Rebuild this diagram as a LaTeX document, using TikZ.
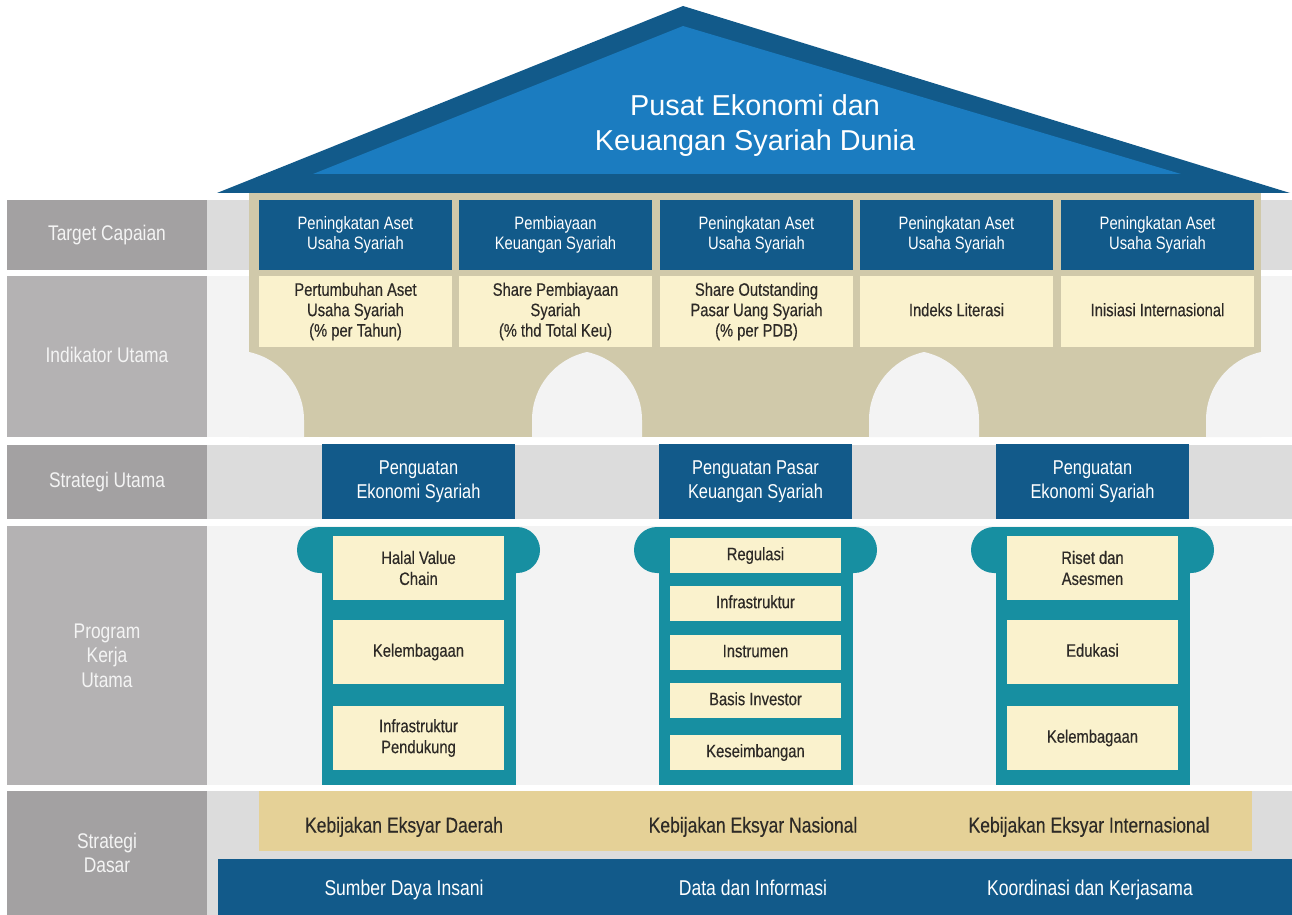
\documentclass[tikz,border=0pt]{standalone}
\usepackage{fontspec}
\setmainfont{Liberation Sans}[FakeStretch=0.82]
\newfontfamily\darkfont{Liberation Sans}[FakeStretch=0.82,FakeBold=0.35]
\newfontfamily\titlefont{Liberation Sans}
\definecolor{dblue}{HTML}{125A8A}
\definecolor{lblue}{HTML}{1B7CC0}
\definecolor{beige}{HTML}{D0C9AA}
\definecolor{cream}{HTML}{FAF2CD}
\definecolor{teal}{HTML}{178FA1}
\definecolor{tan}{HTML}{E5D197}
\definecolor{lbldark}{HTML}{A3A1A2}
\definecolor{lbllight}{HTML}{B4B2B3}
\definecolor{bandD}{HTML}{DCDCDC}
\definecolor{bandL}{HTML}{F3F3F3}
\definecolor{dtext}{HTML}{2D2A26}
\definecolor{lbltext}{HTML}{F4F4F4}
\newcommand\archcut[1]{\fill[bandL] ({#1-55},437) -- ({#1-55},420) .. controls ({#1-55},387) and ({#1-32},359) .. (#1,352) .. controls ({#1+32},359) and ({#1+55},387) .. ({#1+55},420) -- ({#1+55},437) -- cycle;}
\begin{document}
\begin{tikzpicture}[x=0.5pt,y=-0.5pt,
  lbl/.style={text=lbltext, minimum width=100pt, inner sep=0pt, align=center, font=\fontsize{10.6pt}{12.3pt}\selectfont},
  tgt/.style={fill=dblue, text=white, minimum width=96.5pt, minimum height=35pt, inner sep=0pt, align=center, font=\fontsize{9pt}{10pt}\selectfont},
  ind/.style={fill=cream, text=dtext, minimum width=96.5pt, minimum height=35.5pt, inner sep=0pt, align=center, font=\darkfont\fontsize{9pt}{10.2pt}\selectfont},
  stu/.style={fill=dblue, text=white, minimum width=96.5pt, minimum height=37.5pt, inner sep=0pt, align=center, font=\fontsize{10pt}{12pt}\selectfont},
  prg/.style={fill=cream, text=dtext, minimum width=85.5pt, inner sep=0pt, align=center, font=\darkfont\fontsize{9pt}{10.5pt}\selectfont},
  base/.style={inner sep=0pt, align=center, text height=7.7pt, text depth=2.2pt, font=\fontsize{10.7pt}{12pt}\selectfont},
  one/.style={text height=6.6pt, text depth=1.9pt},
  onel/.style={text height=7.7pt, text depth=2.2pt}
]
\useasboundingbox (0,0) rectangle (1292,915);
\fill[white] (0,0) rectangle (1292,915);
% row bands
\fill[bandD] (207,200) rectangle (1292,270);
\fill[bandL] (207,276) rectangle (1292,437);
\fill[bandD] (207,445) rectangle (1292,519);
\fill[bandL] (207,526) rectangle (1292,785);
\fill[bandD] (207,791) rectangle (1292,915);
% left labels
\node[lbl, onel, fill=lbldark, minimum height=35pt] (lt) at (107,235) {Target Capaian};
\node[lbl, onel, fill=lbllight, minimum height=80.5pt] (li) at (107,356.5) {Indikator Utama};
\node[lbl, onel, fill=lbldark, minimum height=37pt] (ls) at (107,482) {Strategi Utama};
\node[lbl, fill=lbllight, minimum height=129.5pt] (lp) at (107,655.5) {Program\\Kerja\\Utama};
\node[lbl, fill=lbldark, minimum height=62pt] (ld) at (107,853) {Strategi\\Dasar};
% temple body
\fill[beige] (249,193) rectangle (1261,437);
\archcut{587}
\archcut{924}
\fill[bandL] (249,352) .. controls (281,359) and (304,387) .. (304,420) -- (304,437) -- (249,437) -- cycle;
\fill[bandL] (1261,352) .. controls (1229,359) and (1206,387) .. (1206,420) -- (1206,437) -- (1261,437) -- cycle;
% roof
\fill[dblue] (217,193) -- (683,6) -- (1290,193) -- cycle;
\fill[lblue] (313,174) -- (683,26) -- (1181,174) -- cycle;
\node[inner sep=0pt, align=center, text=white, font=\titlefont\fontsize{14.4pt}{17.5pt}\selectfont] (title) at (755,125.5) {Pusat Ekonomi dan\\Keuangan Syariah Dunia};
% target boxes
\node[tgt] (t1) at (355.5,235) {Peningkatan Aset\\Usaha Syariah};
\node[tgt] (t2) at (555.5,235) {Pembiayaan\\Keuangan Syariah};
\node[tgt] (t3) at (756.5,235) {Peningkatan Aset\\Usaha Syariah};
\node[tgt] (t4) at (956.5,235) {Peningkatan Aset\\Usaha Syariah};
\node[tgt] (t5) at (1157.5,235) {Peningkatan Aset\\Usaha Syariah};
% indicator boxes
\node[ind] (i1) at (355.5,311.5) {Pertumbuhan Aset\\Usaha Syariah\\(\% per Tahun)};
\node[ind] (i2) at (555.5,311.5) {Share Pembiayaan\\Syariah\\(\% thd Total Keu)};
\node[ind] (i3) at (756.5,311.5) {Share Outstanding\\Pasar Uang Syariah\\(\% per PDB)};
\node[ind, one] (i4) at (956.5,311.5) {Indeks Literasi};
\node[ind, one] (i5) at (1157.5,311.5) {Inisiasi Internasional};
% strategi utama
\node[stu] (s1) at (418.5,481.5) {Penguatan\\Ekonomi Syariah};
\node[stu] (s2) at (755.5,481.5) {Penguatan Pasar\\Keuangan Syariah};
\node[stu] (s3) at (1092.5,481.5) {Penguatan\\Ekonomi Syariah};
% columns
\foreach \c in {418.5,755.5,1092.5}{
  \fill[teal] ({\c-97},540) rectangle ({\c+97},785);
  \fill[teal, rounded corners=11.5pt] ({\c-121.5},527) rectangle ({\c+121.5},573);
}
\node[prg, minimum height=32pt] (p11) at (418.5,568) {Halal Value\\Chain};
\node[prg, one, minimum height=32pt] (p12) at (418.5,652) {Kelembagaan};
\node[prg, minimum height=32pt] (p13) at (418.5,738) {Infrastruktur\\Pendukung};
\node[prg, one, minimum height=17.5pt] (p21) at (755.5,555.5) {Regulasi};
\node[prg, one, minimum height=17.5pt] (p22) at (755.5,603.5) {Infrastruktur};
\node[prg, one, minimum height=17.5pt] (p23) at (755.5,652.5) {Instrumen};
\node[prg, one, minimum height=17.5pt] (p24) at (755.5,700.5) {Basis Investor};
\node[prg, one, minimum height=17.5pt] (p25) at (755.5,752.5) {Keseimbangan};
\node[prg, minimum height=32pt] (p31) at (1092.5,568) {Riset dan\\Asesmen};
\node[prg, one, minimum height=32pt] (p32) at (1092.5,652) {Edukasi};
\node[prg, one, minimum height=32pt] (p33) at (1092.5,738) {Kelembagaan};
% strategi dasar
\fill[tan] (259,791) rectangle (1252,851);
\fill[dblue] (218,859) rectangle (1292,915);
\node[base, text=dtext, font=\darkfont\fontsize{10.7pt}{12pt}\selectfont] (k1) at (404,827) {Kebijakan Eksyar Daerah};
\node[base, text=dtext, font=\darkfont\fontsize{10.7pt}{12pt}\selectfont] (k2) at (753,827) {Kebijakan Eksyar Nasional};
\node[base, text=dtext, font=\darkfont\fontsize{10.7pt}{12pt}\selectfont] (k3) at (1089,827) {Kebijakan Eksyar Internasional};
\node[base, text=white] (b1) at (404,890) {Sumber Daya Insani};
\node[base, text=white] (b2) at (753,890) {Data dan Informasi};
\node[base, text=white] (b3) at (1090,890) {Koordinasi dan Kerjasama};
\end{tikzpicture}
\end{document}
